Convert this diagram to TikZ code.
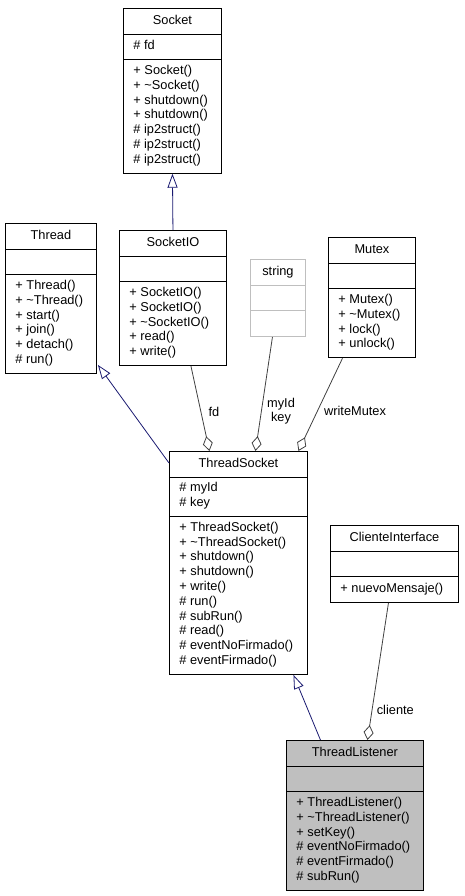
\documentclass[tikz,border=0pt]{standalone}
\usepackage{fontspec}
\setmainfont{Liberation Sans}
\usepackage{tikz}
\usetikzlibrary{shapes.multipart, arrows.meta, calc}
\definecolor{edgeblue}{HTML}{191970}
\definecolor{edgegray}{HTML}{404040}
\definecolor{boxgray}{HTML}{BFBFBF}

\begin{document}
\begin{tikzpicture}[x=1pt, y=-1pt,
  font=\fontsize{12.8}{14.8}\selectfont,
  classbox/.style={draw=black, line width=0.9pt, fill=white, anchor=north west,
    rectangle split, rectangle split parts=3, rectangle split part align={center,left,left},
    align=left, inner xsep=10pt, inner ysep=5pt,
    execute at begin node=\strut, execute at end node=\strut},
  inherit/.style={draw=edgeblue, line width=0.8pt, -{Triangle[open, length=14pt, width=10pt]}},
  aggr/.style={draw=edgegray, line width=0.8pt, -{Diamond[open, length=15pt, width=10pt]}}]
\useasboundingbox (0,0) rectangle (464,896);

\node[classbox, minimum width=98pt] (socket) at (123,8)
  {Socket\nodepart{second}\# fd\nodepart{third}+ Socket()\\+ \textasciitilde Socket()\\+ shutdown()\\+ shutdown()\\\# ip2struct()\\\# ip2struct()\\\# ip2struct()};
\node[classbox, minimum width=91pt] (thread) at (5,223)
  {Thread\nodepart{second}\nodepart{third}+ Thread()\\+ \textasciitilde Thread()\\+ start()\\+ join()\\+ detach()\\\# run()};
\node[classbox, minimum width=107pt] (socketio) at (119,230)
  {SocketIO\nodepart{second}\nodepart{third}+ SocketIO()\\+ SocketIO()\\+ \textasciitilde SocketIO()\\+ read()\\+ write()};
\node[classbox, draw=boxgray, minimum width=55pt] (string) at (250,259)
  {string\nodepart{second}\nodepart{third}};
\node[classbox, minimum width=87pt] (mutex) at (328,237)
  {Mutex\nodepart{second}\nodepart{third}+ Mutex()\\+ \textasciitilde Mutex()\\+ lock()\\+ unlock()};
\node[classbox, minimum width=138pt] (threadsocket) at (169,451)
  {ThreadSocket\nodepart{second}\# myId\\\# key\nodepart{third}+ ThreadSocket()\\+ \textasciitilde ThreadSocket()\\+ shutdown()\\+ shutdown()\\+ write()\\\# run()\\\# subRun()\\\# read()\\\# eventNoFirmado()\\\# eventFirmado()};
\node[classbox, minimum width=128pt] (cliente) at (330,525)
  {ClienteInterface\nodepart{second}\nodepart{third}+ nuevoMensaje()};
\node[classbox, fill=boxgray, minimum width=137pt] (threadlistener) at (286,740)
  {ThreadListener\nodepart{second}\nodepart{third}+ ThreadListener()\\+ \textasciitilde ThreadListener()\\+ setKey()\\\# eventNoFirmado()\\\# eventFirmado()\\\# subRun()};

% inheritance
\draw[inherit] (socketio.north) -- (socket.south);
\draw[inherit] ($(threadsocket.north west)+(0,12)$) -- ($(thread.south east)+(1,-9)$);
\draw[inherit] ($(threadlistener.north)+(-34.5,0)$) -- ($(threadsocket.south)+(55,0)$);

% members
\draw[aggr] ($(socketio.south)+(18,0)$) -- node[pos=0.54, right=4pt] {fd} ($(threadsocket.north)+(-29,0)$);
\draw[aggr] ($(string.south)+(-5.5,0)$) -- node[pos=0.65, right=2pt, align=center] {myId\\key} ($(threadsocket.north)+(17,0)$);
\draw[aggr] ($(mutex.south)+(-29.5,0)$) -- node[pos=0.57, right=3pt] {writeMutex} ($(threadsocket.north)+(60,0)$);
\draw[aggr] ($(cliente.south)+(-6,0)$) -- node[pos=0.78, right=1pt] {cliente} ($(threadlistener.north)+(12.5,0)$);
\end{tikzpicture}
\end{document}
